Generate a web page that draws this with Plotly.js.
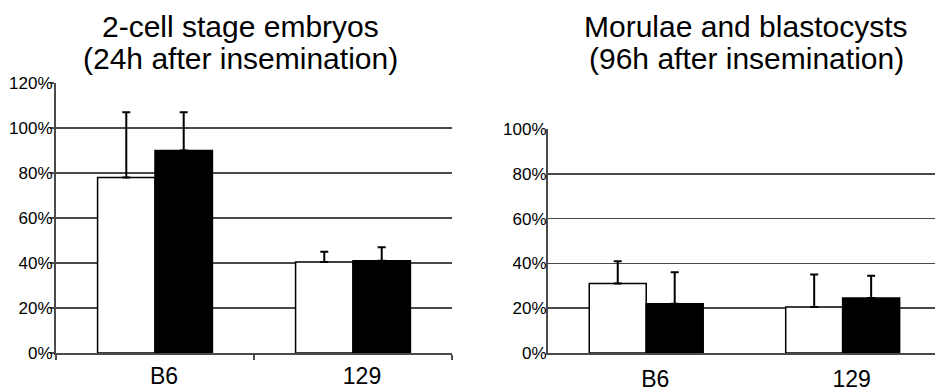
<!DOCTYPE html>
<html>
<head>
<meta charset="utf-8">
<script src="https://cdn.plot.ly/plotly-3.0.1.min.js"></script>
<style>html,body{margin:0;padding:0;background:#fff;overflow:hidden}#chart{width:935px;height:391px}</style>
</head>
<body>
<div id="chart"></div>
<script>
const categories = ["B6", "129"];
// Panel 1: 2-cell stage embryos (24h after insemination)
const p1White = [78, 40.5];
const p1WhiteErr = [29, 4.5];
const p1Black = [90, 41];
const p1BlackErr = [17, 6];
// Panel 2: Morulae and blastocysts (96h after insemination)
const p2White = [31, 20.5];
const p2WhiteErr = [10, 14.5];
const p2Black = [22, 24.5];
const p2BlackErr = [14, 10];
const yTicks1 = [0, 20, 40, 60, 80, 100, 120];
const yTicks2 = [0, 20, 40, 60, 80, 100];
const yTickText1 = yTicks1.map(v => v + "%");
const yTickText2 = yTicks2.map(v => v + "%");

const FONT = "Liberation Sans, Arial, sans-serif";
const W = 935, H = 391;

function bar(y, err, fill, xa, ya) {
  return {
    type: "bar", x: categories, y: y, xaxis: xa, yaxis: ya,
    marker: {color: fill, line: {color: "#000", width: 1.5}},
    error_y: {type: "data", symmetric: false, array: err, arrayminus: err.map(() => 0),
              color: "#000", thickness: 2, width: 4},
    hoverinfo: "skip", showlegend: false
  };
}

const data = [
  bar(p1White, p1WhiteErr, "#fff", "x", "y"),
  bar(p1Black, p1BlackErr, "#000", "x", "y"),
  bar(p2White, p2WhiteErr, "#fff", "x2", "y2"),
  bar(p2Black, p2BlackErr, "#000", "x2", "y2")
];

const gridC = "#4a4a4a";
const layout = {
  width: W, height: H,
  margin: {l: 0, r: 0, t: 0, b: 0},
  paper_bgcolor: "#fff", plot_bgcolor: "#fff",
  barmode: "group", bargap: 0.42, bargroupgap: 0,
  font: {family: FONT, color: "#000"},
  xaxis: {
    type: "category",
    domain: [56 / W, 452 / W], range: [-0.5, 1.5],
    showline: true, linecolor: gridC, linewidth: 2,
    ticks: "outside", tickson: "boundaries", ticklen: 5, tickcolor: gridC, tickwidth: 1.5,
    tickfont: {size: 23, family: FONT}, ticklabelstandoff: 1, ticklabelshift: 9,
    showgrid: false, zeroline: false
  },
  yaxis: {
    domain: [38 / H, 308 / H], range: [0, 120],
    tickvals: yTicks1, ticktext: yTickText1,
    showline: true, linecolor: gridC, linewidth: 2,
    ticks: "outside", ticklen: 4, tickcolor: gridC, tickwidth: 1.5,
    tickfont: {size: 17, family: FONT}, ticklabelstandoff: -6,
    showgrid: true, gridcolor: gridC, gridwidth: 1.5, zeroline: false
  },
  xaxis2: {
    type: "category",
    domain: [548 / W, 1], range: [-0.5, 1.47], anchor: "y2",
    showline: true, linecolor: gridC, linewidth: 2,
    ticks: "", tickfont: {size: 23, family: FONT}, ticklabelstandoff: 4, ticklabelshift: 9,
    showgrid: false, zeroline: false
  },
  yaxis2: {
    domain: [38 / H, 262 / H], range: [0, 100], anchor: "x2",
    tickvals: yTicks2, ticktext: yTickText2,
    showline: true, linecolor: gridC, linewidth: 2,
    ticks: "", tickfont: {size: 17, family: FONT}, ticklabelstandoff: -4,
    showgrid: true, gridcolor: gridC, gridwidth: 1.5, zeroline: false
  },
  annotations: [
    {text: "2-cell stage embryos", x: 240 / W, y: 1 - 27 / H, xref: "paper", yref: "paper",
     xanchor: "center", yanchor: "middle", showarrow: false, font: {size: 30, family: FONT}},
    {text: "(24h after insemination)", x: 240 / W, y: 1 - 58 / H, xref: "paper", yref: "paper",
     xanchor: "center", yanchor: "middle", showarrow: false, font: {size: 30, family: FONT}},
    {text: "Morulae and blastocysts", x: 746 / W, y: 1 - 27 / H, xref: "paper", yref: "paper",
     xanchor: "center", yanchor: "middle", showarrow: false, font: {size: 30, family: FONT}},
    {text: "(96h after insemination)", x: 746 / W, y: 1 - 58 / H, xref: "paper", yref: "paper",
     xanchor: "center", yanchor: "middle", showarrow: false, font: {size: 30, family: FONT}}
  ]
};

Plotly.newPlot("chart", data, layout, {displayModeBar: false, staticPlot: true});
</script>
</body>
</html>
